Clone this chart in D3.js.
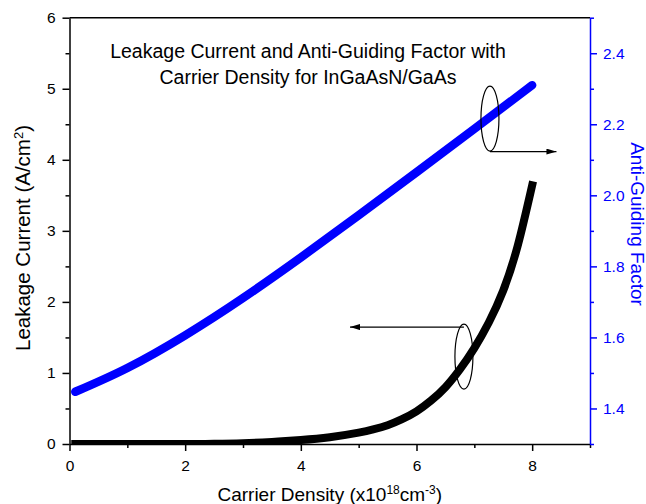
<!DOCTYPE html>
<html><head><meta charset="utf-8">
<script src="https://cdn.jsdelivr.net/npm/d3@7"></script>
<style>body{margin:0;background:#fff}svg{display:block}text{font-family:"Liberation Sans",Arial,sans-serif}</style>
</head><body><svg id="c" width="646" height="504"></svg>
<script>
// Anti-guiding factor (right axis) vs carrier density
const density = [0.1,1,2,3,4,5,6,7,8];
const antiGuiding = [1.447,1.514,1.606,1.711,1.825,1.944,2.065,2.187,2.310];
// Leakage current (left axis) vs carrier density
const leakDensity = [0.1,0.5,1,1.5,2,2.5,3,3.5,4,4.5,5,5.25,5.5,5.75,6,6.25,6.5,6.75,7,7.25,7.5,7.75,8];
const leakage = [0,0,0,0,0,0.002,0.01,0.03,0.056,0.095,0.16,0.205,0.265,0.35,0.46,0.61,0.80,1.05,1.35,1.71,2.16,2.79,3.64];
// ticks
const xMajor = [0,2,4,6,8];
const xMinor = [1,3,5,7,9];
const yMajor = [0,1,2,3,4,5,6];
const yMinor = [0.5,1.5,2.5,3.5,4.5,5.5];
const y2Major = [1.4,1.6,1.8,2.0,2.2,2.4];
const y2Minor = [1.3,1.5,1.7,1.9,2.1,2.3,2.5];
const titleLines = ["Leakage Current and Anti-Guiding Factor with","Carrier Density for InGaAsN/GaAs"];
// annotation ellipses (data coords: x, left-axis y) and arrow ends
const annoBlue = {cx:7.27, cy:4.58, ax:8.42};
const annoBlack = {cx:6.82, cy:1.23, ax:4.85};

const svg = d3.select("#c");
const L=69.5, R=590, T=17.7, B=444;
const x = d3.scaleLinear().domain([0,9]).range([L,R]);
const y = d3.scaleLinear().domain([0,6]).range([B,T]);
const y2 = d3.scaleLinear().domain([1.3,2.5]).range([B,T]);
const blue="#0000ff";

const defs = svg.append("defs");
defs.append("marker").attr("id","arr").attr("viewBox","0 0 10 6")
  .attr("refX",10).attr("refY",3).attr("markerWidth",10).attr("markerHeight",6)
  .attr("markerUnits","userSpaceOnUse").attr("orient","auto")
  .append("path").attr("d","M0,0L10,3L0,6Z").attr("fill","#000");
defs.append("clipPath").attr("id","plot").append("rect")
  .attr("x",L).attr("y",T).attr("width",R-L).attr("height",B-T);

// curves
const blackLine = d3.line().x((d,i)=>x(leakDensity[i])).y(d=>y(d)).curve(d3.curveNatural);
svg.append("path").attr("d",blackLine(leakage)).attr("fill","none").attr("stroke","#000")
  .attr("clip-path","url(#plot)")
  .attr("stroke-width",8).attr("stroke-linecap","square").attr("stroke-linejoin","miter");
const blueLine = d3.line().x((d,i)=>x(density[i])).y(d=>y2(d)).curve(d3.curveNatural);
svg.append("path").attr("d",blueLine(antiGuiding)).attr("fill","none").attr("stroke",blue)
  .attr("stroke-width",8.5).attr("stroke-linecap","round").attr("stroke-linejoin","round");

// top frame line
svg.append("line").attr("x1",L).attr("x2",R).attr("y1",T).attr("y2",T).attr("stroke","#000").attr("stroke-width",1.5);

function styleAxis(g,color,fs){
  g.selectAll("path.domain").attr("stroke",color).attr("stroke-width",1.5);
  g.selectAll(".tick line").attr("stroke",color).attr("stroke-width",1.5);
  g.selectAll(".tick text").attr("fill",color).attr("font-size",fs).attr("font-family",'"Liberation Sans",Arial,sans-serif');
}
const fs = "15.5px";
// x axis
let gx = svg.append("g").attr("transform",`translate(0,${B})`)
  .call(d3.axisBottom(x).tickValues(xMinor).tickSize(4).tickFormat(""));
styleAxis(gx,"#000",fs); gx.select("path.domain").remove();
gx = svg.append("g").attr("transform",`translate(0,${B})`)
  .call(d3.axisBottom(x).tickValues(xMajor).tickSize(7).tickPadding(9).tickSizeOuter(0).tickFormat(d3.format("d")));
styleAxis(gx,"#000",fs);
// left axis
let gy = svg.append("g").attr("transform",`translate(${L},0)`)
  .call(d3.axisLeft(y).tickValues(yMinor).tickSize(4).tickFormat(""));
styleAxis(gy,"#000",fs); gy.select("path.domain").remove();
gy = svg.append("g").attr("transform",`translate(${L},0)`)
  .call(d3.axisLeft(y).tickValues(yMajor).tickSize(7).tickPadding(7).tickSizeOuter(0).tickFormat(d3.format("d")));
styleAxis(gy,"#000",fs);
// right axis
let gr = svg.append("g").attr("transform",`translate(${R},0)`)
  .call(d3.axisRight(y2).tickValues(y2Minor).tickSize(4).tickFormat(""));
styleAxis(gr,blue,fs); gr.select("path.domain").remove();
gr = svg.append("g").attr("transform",`translate(${R},0)`)
  .call(d3.axisRight(y2).tickValues(y2Major).tickSize(7).tickPadding(6).tickSizeOuter(0).tickFormat(d3.format(".1f")));
styleAxis(gr,blue,fs);

// annotations
const rx=9, ry=32.5;
[annoBlue,annoBlack].forEach(a=>{
  svg.append("ellipse").attr("cx",x(a.cx)).attr("cy",y(a.cy)).attr("rx",rx).attr("ry",ry)
    .attr("fill","none").attr("stroke","#000").attr("stroke-width",1.2);
});
svg.append("line").attr("x1",x(annoBlue.cx)).attr("y1",y(annoBlue.cy)+ry+0.5)
  .attr("x2",x(annoBlue.ax)).attr("y2",y(annoBlue.cy)+ry+0.5)
  .attr("stroke","#000").attr("stroke-width",1.2).attr("marker-end","url(#arr)");
svg.append("line").attr("x1",x(annoBlack.cx)).attr("y1",y(annoBlack.cy)-ry+3)
  .attr("x2",x(annoBlack.ax)).attr("y2",y(annoBlack.cy)-ry+3)
  .attr("stroke","#000").attr("stroke-width",1.2).attr("marker-end","url(#arr)");

// chart title
svg.append("text").attr("x",308).attr("y",58).attr("text-anchor","middle").attr("font-size","19.5px").text(titleLines[0]);
svg.append("text").attr("x",308).attr("y",83.5).attr("text-anchor","middle").attr("font-size","19.5px").text(titleLines[1]);

// x axis title
const xt = svg.append("text").attr("x",(L+R)/2).attr("y",501).attr("text-anchor","middle").attr("font-size","19px");
xt.append("tspan").text("Carrier Density (x10");
xt.append("tspan").attr("dy",-7).attr("font-size","12px").text("18");
xt.append("tspan").attr("dy",7).text("cm");
xt.append("tspan").attr("dy",-7).attr("font-size","12px").text("-3");
xt.append("tspan").attr("dy",7).text(")");

// left y title
const lt = svg.append("text").attr("transform","translate(30,238) rotate(-90)").attr("text-anchor","middle").attr("font-size","20.5px");
lt.append("tspan").text("Leakage Current (A/cm");
lt.append("tspan").attr("dy",-7).attr("font-size","13px").text("2");
lt.append("tspan").attr("dy",7).text(")");

// right y title
svg.append("text").attr("transform","translate(630.5,224) rotate(90)").attr("text-anchor","middle")
  .attr("font-size","19px").attr("fill",blue).text("Anti-Guiding Factor");
</script></body></html>
